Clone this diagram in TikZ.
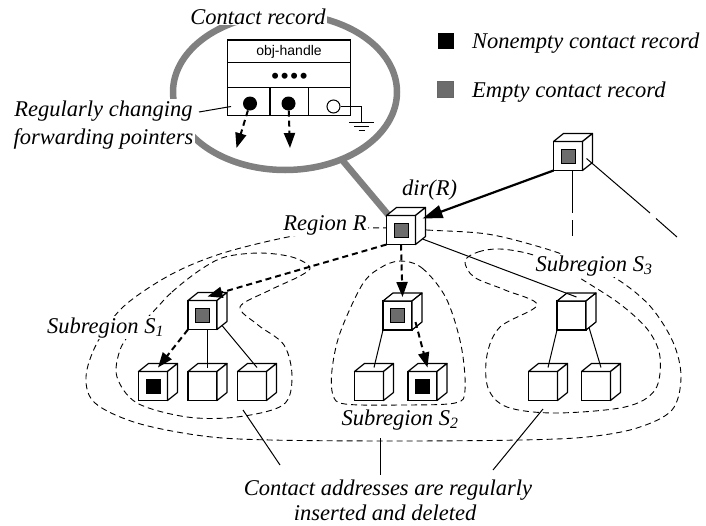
\documentclass[tikz,border=0pt]{standalone}
\usepackage{fontspec}
\setmainfont{Liberation Serif}
\newfontfamily\sansf{Liberation Sans}
\usetikzlibrary{arrows.meta,shapes.geometric,backgrounds}
\definecolor{ringgray}{RGB}{128,128,128}
\definecolor{recgray}{RGB}{108,108,108}
\newcommand\cubeat[3]{%
  \node[cubefront] (#1) at (#2) {};
  \node[#3] at (#1.center) {};
  \draw[cubeedge] (#1.north west) -- ++(10,-8) -- ++(29,0) -- ++(-10,8) -- cycle;
  \draw[cubeedge] (#1.north east) -- ++(10,-8) -- ++(0,29) -- ++(-10,8) -- cycle;
  \coordinate (#1-top) at ([shift={(5,-4)}]#1.north);
}
\begin{document}
\begin{tikzpicture}[x=1pt,y=-1pt,
  lbl/.style={font=\itshape\fontsize{22.5}{25}\selectfont, inner sep=1pt},
  wlbl/.style={lbl, fill=white},
  cubefront/.style={draw, fill=white, line width=1.2pt, minimum size=29pt, inner sep=0pt, outer sep=0pt},
  cubeedge/.style={draw, fill=white, line width=1.2pt, line join=round},
  graysq/.style={draw, line width=1pt, fill=recgray, minimum size=14pt, inner sep=0pt},
  blacksq/.style={draw, line width=1pt, fill=black, minimum size=14pt, inner sep=0pt},
  nosq/.style={inner sep=0pt, minimum size=0pt},
  conn/.style={line width=1pt},
  regline/.style={line width=0.9pt, dash pattern=on 6pt off 4pt},
  ptr/.style={line width=2pt, dash pattern=on 6pt off 4pt, -{Triangle[length=15pt,width=11pt]}},
  mainarrow/.style={line width=2.2pt, -{Triangle[length=20pt,width=13pt]}},
  ring/.style={draw=ringgray, line width=6.5pt},
]
\useasboundingbox (0,0) rectangle (706,525);

% ---------- contact record ----------
\node[draw, line width=1.2pt, fill=white, minimum width=123.4pt, minimum height=75.7pt, inner sep=0pt] (rec) at (289,77.85) {};
\draw[line width=1.2pt] (227.3,62.7) -- (350.7,62.7);
\draw[line width=1.2pt] (227.3,87.3) -- (350.7,87.3);
\draw[line width=1.2pt] (270,87.3) -- (270,115.7);
\draw[line width=1.2pt] (308.3,87.3) -- (308.3,115.7);
\node[font=\sansf\fontsize{14}{16}\selectfont, inner sep=0pt] (oh) at (289,51.5) {obj-handle};
\node[font=\sansf\fontsize{22}{22}\selectfont, inner sep=0pt, anchor=base] (dots) at (289.5,83.5) {\textbullet\hspace{1.8pt}\textbullet\hspace{1.8pt}\textbullet\hspace{1.8pt}\textbullet};
\node[circle, fill=black, minimum size=14pt, inner sep=0pt] (c1) at (250,103.5) {};
\node[circle, fill=black, minimum size=14pt, inner sep=0pt] (c2) at (288.5,103.5) {};
\node[circle, draw, line width=1pt, fill=white, minimum size=13pt, inner sep=0pt] (c3) at (333.5,106.5) {};
\coordinate (g1) at (361.5,106.5);
\coordinate (g2) at (361.5,122.3);
\draw[line width=1pt] (c3) -- (g1) -- (g2);
\draw[line width=1pt] (349,122.3) -- (374,122.3);
\draw[line width=1pt] (354,126.3) -- (369,126.3);
\draw[line width=1pt] (358.5,130.3) -- (364.5,130.3);
\coordinate (a1) at (236.5,148);
\coordinate (a2) at (290,148);
\draw[ptr] (c1) -- (a1);
\draw[ptr] (c2) -- (a2);

% ---------- legend ----------
\node[fill=black, minimum size=16pt, inner sep=0pt] (lk1) at (445.5,41) {};
\node[fill=recgray, draw=black!60, line width=0.6pt, minimum size=15.5pt, inner sep=0pt] (lk2) at (445.5,89.5) {};
\node[lbl, anchor=base west] (lt1) at (471,48) {Nonempty contact record};
\node[lbl, anchor=base west] (lt2) at (471,97) {Empty contact record};

% ---------- cubes ----------
\cubeat{P}{568,156}{graysq}
\cubeat{R}{401,230}{graysq}
\cubeat{Sa}{202.5,315}{graysq}
\cubeat{Sa1}{153,386}{blacksq}
\cubeat{Sa2}{202.5,386}{nosq}
\cubeat{Sa3}{252,386}{nosq}
\cubeat{Sb}{397.5,315.5}{graysq}
\cubeat{Sb1}{369,386}{nosq}
\cubeat{Sb2}{422.5,386}{blacksq}
\cubeat{Sc}{571.5,315.5}{nosq}
\cubeat{Sc1}{543,386}{nosq}
\cubeat{Sc2}{596,386}{nosq}

% ---------- labels ----------
\node[wlbl, anchor=base] (tcr) at (258,24) {Contact record};
\node[wlbl, align=center, font=\itshape\fontsize{22.5}{28}\selectfont, inner sep=2pt] (trc) at (103.5,125.5) {Regularly changing\\forwarding pointers};
\coordinate (lp1) at (199,112);
\coordinate (lp2) at (231,106.5);
\draw[line width=1pt] (lp1) -- (lp2);
\node[wlbl, anchor=base] (tdir) at (429.5,195) {dir(R)};
\node[wlbl, anchor=base] (treg) at (325,230.5) {Region R};
\node[wlbl, anchor=base] (ts1) at (105.5,333) {Subregion S\textsubscript{1}};
\node[wlbl, anchor=base] (ts2) at (400,425) {Subregion S\textsubscript{2}};
\node[wlbl, anchor=base] (ts3) at (594,271) {Subregion S\textsubscript{3}};
\node[lbl, anchor=base] (tb1) at (388,495) {Contact addresses are regularly};
\node[lbl, anchor=base] (tb2) at (385,520) {inserted and deleted};

% ---------- connectors ----------
\draw[mainarrow] (P.south west) -- ([shift={(7,3)}]R.north east);
\coordinate (pv1) at (572.5,213);
\coordinate (pv2) at (572.5,220);
\coordinate (pv3) at (572.5,236);
\draw[conn] ([shift={(4.5,0)}]P.south) -- (pv1);
\draw[conn] (pv2) -- (pv3);
\coordinate (pd1) at (650,213);
\coordinate (pd2) at (656,218.5);
\coordinate (pd3) at (677,237);
\draw[conn] ([shift={(4,-12)}]P.south east) -- (pd1);
\draw[conn] (pd2) -- (pd3);

\draw[conn] ([shift={(7,-5.5)}]R.south east) -- (Sc-top);
\draw[ptr] (R.south west) -- (Sa-top);
\draw[ptr] (R.south) -- (Sb-top);

\draw[ptr] (Sa.south west) -- (Sa1-top);
\draw[conn] (Sa.south -| Sa2-top) -- (Sa2-top);
\draw[conn] ([shift={(5,-4)}]Sa.south east) -- (Sa3-top);
\draw[conn] (Sb.south west) -- (Sb1-top);
\draw[ptr] ([shift={(3.5,-8)}]Sb.south east) -- (Sb2-top);
\draw[conn] (Sc.south west) -- (Sc1-top);
\draw[conn] ([shift={(3,-2.5)}]Sc.south east) -- (Sc2-top);

\coordinate (q1a) at (243,410);
\coordinate (q1b) at (280,465);
\coordinate (q2a) at (380,438);
\coordinate (q2b) at (380,475);
\coordinate (q3a) at (543,409);
\coordinate (q3b) at (493,470);
\draw[conn] (q1a) -- (q1b);
\draw[conn] (q2a) -- (q2b);
\draw[conn] (q3a) -- (q3b);

% ---------- background ----------
\begin{pgfonlayer}{background}
\node[ring, ellipse, minimum width=224pt, minimum height=156pt, inner sep=0pt, outer sep=0pt] (cr) at (285,92) {};
\draw[line width=6.5pt, draw=ringgray] (cr) -- (R.center);
% region R
\draw[regline] plot[smooth cycle, tension=0.55] coordinates {
 (400,228) (427,230) (487,234) (540,247) (580,261) (617,279) (650,306) (673,342)
 (681,377) (672,410) (637,428) (587,437) (520,440) (400,441) (270,440) (203,436)
 (137,423) (95,403) (86,377) (97,343) (123,307) (170,275) (220,254) (283,238) (340,229)};
% S1
\draw[regline] plot[smooth cycle, tension=0.55] coordinates {
 (150,315) (172,292) (200,270) (225,257) (260,253) (292,257) (310,267) (300,276)
 (268,291) (240,307) (258,325) (284,345) (292,377) (283,405) (237,417) (187,417)
 (137,403) (117,377) (120,350) (133,330)};
% S2
\draw[regline] plot[smooth cycle, tension=0.55] coordinates {
 (400,261) (422,268) (446,298) (461,345) (465,390) (455,403) (400,405) (345,404)
 (333,395) (332,370) (340,333) (362,285) (380,268)};
% S3
\draw[regline] plot[smooth cycle, tension=0.55] coordinates {
 (465,261) (478,252) (500,249) (530,254) (560,266) (583,280) (620,304) (648,330)
 (660,357) (655,390) (625,407) (555,413) (507,407) (488,388) (487,355) (500,327)
 (537,305) (505,290) (474,277)};
\end{pgfonlayer}
\end{tikzpicture}
\end{document}
